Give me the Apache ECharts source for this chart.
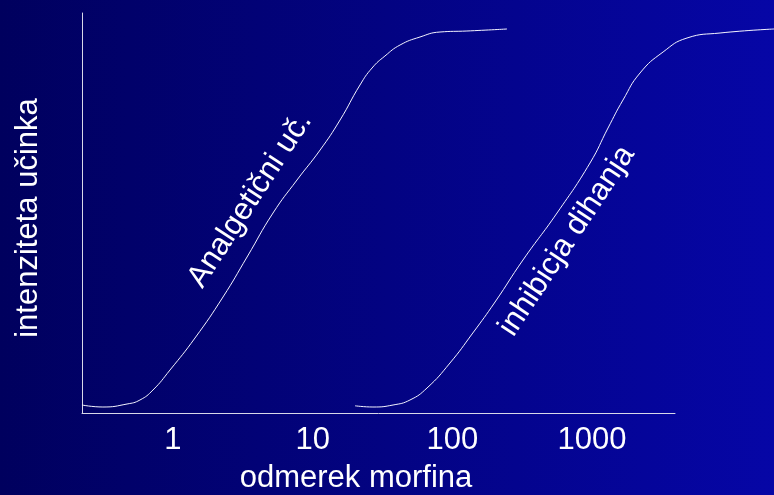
<!DOCTYPE html>
<html>
<head>
<meta charset="utf-8">
<script src="https://cdn.jsdelivr.net/npm/echarts@6/dist/echarts.min.js"></script>
<style>
  html, body { margin: 0; padding: 0; }
  #chart { width: 774px; height: 495px; }
</style>
</head>
<body>
<div id="chart"></div>
<script>
// dose (log scale) vs. effect intensity (0-100)
const tickValues = [1, 10, 100, 1000];

const analgDose = [0.223, 0.315, 0.469, 0.58, 0.719, 0.952, 1.437, 2.28, 3.39, 5.2, 7.72, 11.3, 15.7, 21.8, 26.6, 32.9, 42.2, 58.6, 81.5, 127, 246];
const analgEffect = [2.0, 1.5, 2.25, 3.25, 5.75, 10.75, 18.75, 29, 39, 50, 58.25, 65.75, 73.25, 82, 86.25, 89.25, 92, 94, 95.25, 95.5, 96];

const respDose = [20.1, 27.0, 37.6, 49.7, 65.8, 96.1, 140, 202, 320, 561, 966, 1300, 1664, 2203, 3221, 4779, 8238, 20050];
const respEffect = [1.8, 1.5, 2.0, 3.25, 6.25, 12.5, 20, 27.75, 38.25, 50, 62.5, 71.25, 78.25, 85, 90.25, 93.75, 95, 96];

const font = 'Liberation Sans, Arial, sans-serif';
const zip = (xs, ys) => xs.map((x, i) => [x, ys[i]]);

const chart = echarts.init(document.getElementById('chart'));

const lineStyle = { color: '#f4f4ff', width: 1 };

chart.setOption({
  backgroundColor: {
    type: 'linear', x: 0, y: 0, x2: 1, y2: 0,
    colorStops: [
      { offset: 0, color: '#00005E' },
      { offset: 1, color: '#0606A6' }
    ]
  },
  grid: [
    // visible axes
    { left: 82, top: 13, width: 593, height: 400, containLabel: false, outerBoundsMode: 'none' },
    // curves run a bit further right than the axis line
    { left: 82, top: 13, width: 692, height: 400, containLabel: false, outerBoundsMode: 'none' }
  ],
  xAxis: [
    {
      type: 'log', logBase: 10, gridIndex: 0,
      min: 0.2232, max: 3921,
      name: 'odmerek morfina',
      nameLocation: 'middle',
      nameGap: 50,
      nameTextStyle: { color: '#fff', fontSize: 31, fontFamily: font, padding: [0, 45, 0, 0] },
      axisLine: { lineStyle: { color: '#d8d8e8', width: 1 } },
      axisTick: { show: false },
      splitLine: { show: false },
      axisLabel: {
        customValues: tickValues,
        color: '#fff', fontSize: 31, fontFamily: font, margin: 12,
        formatter: v => String(Math.round(v))
      }
    },
    {
      type: 'log', logBase: 10, gridIndex: 1,
      min: 0.2232, max: 20047,
      show: false
    }
  ],
  yAxis: [
    {
      type: 'value', gridIndex: 0, min: 0, max: 100,
      name: 'intenziteta učinka',
      nameLocation: 'middle',
      nameRotate: 90,
      nameGap: 38,
      nameTextStyle: { color: '#fff', fontSize: 31, fontFamily: font, padding: [0, 10, 0, 0] },
      axisLine: { show: true, lineStyle: { color: '#d8d8e8', width: 1 } },
      axisTick: { show: false },
      axisLabel: { show: false },
      splitLine: { show: false }
    },
    { type: 'value', gridIndex: 1, min: 0, max: 100, show: false }
  ],
  series: [
    {
      name: 'Analgetični uč.',
      type: 'line', xAxisIndex: 1, yAxisIndex: 1,
      data: zip(analgDose, analgEffect),
      smooth: 0.5, showSymbol: false, lineStyle: lineStyle, silent: true
    },
    {
      name: 'inhibicja dihanja',
      type: 'line', xAxisIndex: 1, yAxisIndex: 1,
      data: zip(respDose, respEffect),
      smooth: 0.5, showSymbol: false, lineStyle: lineStyle, silent: true
    }
  ],
  graphic: [
    {
      type: 'text', x: 250, y: 200, rotation: 57 * Math.PI / 180,
      style: { text: 'Analgetični uč.', fill: '#fff', font: '31px ' + font, align: 'center', verticalAlign: 'middle' }
    },
    {
      type: 'text', x: 567, y: 241, rotation: 56.5 * Math.PI / 180,
      style: { text: 'inhibicja dihanja', fill: '#fff', font: '31px ' + font, align: 'center', verticalAlign: 'middle' }
    }
  ]
});
</script>
</body>
</html>
